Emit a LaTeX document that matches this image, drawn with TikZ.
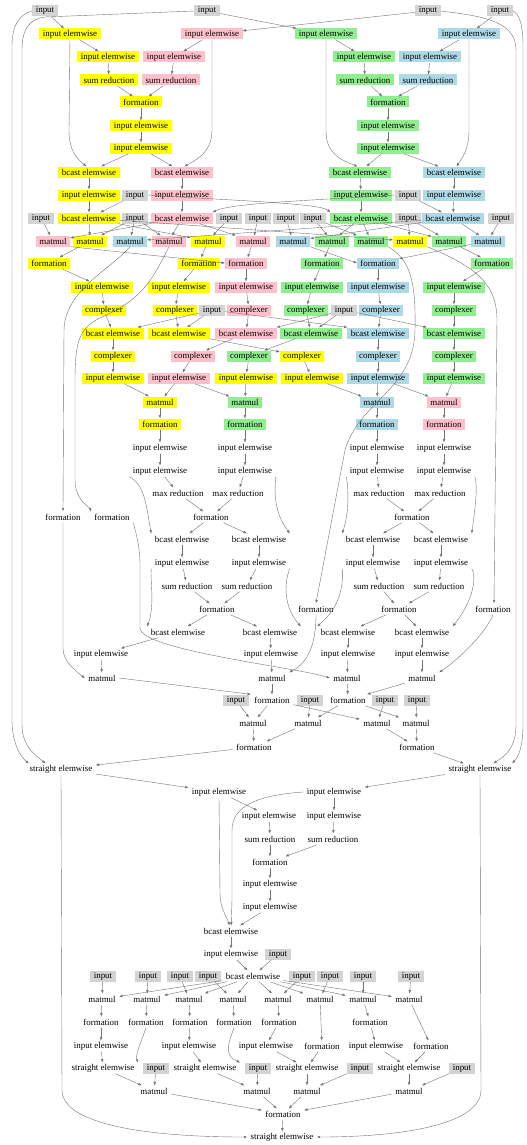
\documentclass[tikz,border=0pt]{standalone}
\usepackage{fontspec}
\setmainfont{Liberation Serif}
\usetikzlibrary{arrows.meta}
\definecolor{opyellow}{RGB}{255,255,0}
\definecolor{oppink}{RGB}{255,192,203}
\definecolor{opgreen}{RGB}{144,238,144}
\definecolor{opblue}{RGB}{173,216,230}
\definecolor{opgray}{RGB}{211,211,211}
\newcommand\opfont{\fontsize{8.9}{10}\selectfont}
\begin{document}
\begin{tikzpicture}[
    x=1pt, y=-1pt,
    op/.style={inner xsep=3.5pt, inner ysep=0pt, minimum height=11pt, font=\opfont},
    yel/.style={op, fill=opyellow},
    pnk/.style={op, fill=oppink},
    grn/.style={op, fill=opgreen},
    blu/.style={op, fill=opblue},
    inp/.style={op, fill=opgray},
    pln/.style={op},
    wire/.style={draw=black!55, line width=0.4pt, -{Triangle[length=3.2pt,width=2.4pt]}},
]
    \useasboundingbox (0,0) rectangle (527,1145);

    % top inputs and norms
    \node[inp] (inA1) at (45,11) {input};
    \node[inp] (inA2) at (207,11) {input};
    \node[inp] (inA3) at (428,11) {input};
    \node[inp] (inA4) at (500,11) {input};
    \node[yel] (ieB1) at (70,34) {input elemwise};
    \node[pnk] (ieB2) at (212,34) {input elemwise};
    \node[grn] (ieB3) at (326,34) {input elemwise};
    \node[blu] (ieB4) at (469,34) {input elemwise};
    \node[yel] (ieC1) at (108,57) {input elemwise};
    \node[pnk] (ieC2) at (174,57) {input elemwise};
    \node[grn] (ieC3) at (364,57) {input elemwise};
    \node[blu] (ieC4) at (430,57) {input elemwise};
    \node[yel] (srD1) at (109,80) {sum reduction};
    \node[pnk] (srD2) at (171,80) {sum reduction};
    \node[grn] (srD3) at (365,80) {sum reduction};
    \node[blu] (srD4) at (428,80) {sum reduction};
    \node[yel] (fE1) at (141,102) {formation};
    \node[grn] (fE2) at (388,102) {formation};
    \node[yel] (ieF1) at (141,126) {input elemwise};
    \node[grn] (ieF2) at (388,126) {input elemwise};
    \node[yel] (ieG1) at (141,148) {input elemwise};
    \node[grn] (ieG2) at (388,148) {input elemwise};
    \node[yel] (bcH1) at (89,172) {bcast elemwise};
    \node[pnk] (bcH2) at (182,172) {bcast elemwise};
    \node[grn] (bcH3) at (360,172) {bcast elemwise};
    \node[blu] (bcH4) at (454,172) {bcast elemwise};
    \node[yel] (ieI1) at (89,195) {input elemwise};
    \node[inp] (inI1) at (135,195) {input};
    \node[pnk] (ieI2) at (182,195) {input elemwise};
    \node[grn] (ieI3) at (361,195) {input elemwise};
    \node[inp] (inI2) at (408,195) {input};
    \node[blu] (ieI4) at (454,195) {input elemwise};
    \node[inp] (inJ1) at (41,218) {input};
    \node[yel] (bcJ1) at (89,218) {bcast elemwise};
    \node[inp] (inJ2) at (135,218) {input};
    \node[pnk] (bcJ2) at (182,218) {bcast elemwise};
    \node[inp] (inJ3) at (229,218) {input};
    \node[inp] (inJ4) at (258,218) {input};
    \node[inp] (inJ5) at (286,218) {input};
    \node[inp] (inJ6) at (313,218) {input};
    \node[grn] (bcJ3) at (361,218) {bcast elemwise};
    \node[inp] (inJ7) at (408,218) {input};
    \node[blu] (bcJ4) at (453,218) {bcast elemwise};
    \node[inp] (inJ8) at (501,218) {input};

    % projections
    \node[pnk] (mK1) at (53,241) {matmul};
    \node[yel] (mK2) at (90,241) {matmul};
    \node[blu] (mK3) at (130,241) {matmul};
    \node[pnk] (mK4) at (169,241) {matmul};
    \node[yel] (mK5) at (208,241) {matmul};
    \node[pnk] (mK6) at (253,241) {matmul};
    \node[blu] (mK7) at (293,241) {matmul};
    \node[grn] (mK8) at (332,241) {matmul};
    \node[grn] (mK9) at (371,241) {matmul};
    \node[yel] (mK10) at (410,241) {matmul};
    \node[grn] (mK11) at (449,241) {matmul};
    \node[blu] (mK12) at (488,241) {matmul};
    \node[yel] (fL1) at (49,263) {formation};
    \node[yel] (fL2) at (199,263) {formation};
    \node[pnk] (fL3) at (246,263) {formation};
    \node[grn] (fL4) at (322,263) {formation};
    \node[blu] (fL5) at (378,263) {formation};
    \node[grn] (fL6) at (492,263) {formation};
    \node[yel] (ieM1) at (102,287) {input elemwise};
    \node[yel] (ieM2) at (179,287) {input elemwise};
    \node[pnk] (ieM3) at (246,287) {input elemwise};
    \node[grn] (ieM4) at (312,287) {input elemwise};
    \node[blu] (ieM5) at (378,287) {input elemwise};
    \node[grn] (ieM6) at (454,287) {input elemwise};
    \node[yel] (cN1) at (104,310) {complexer};
    \node[yel] (cN2) at (175,310) {complexer};
    \node[inp] (inN1) at (212,310) {input};
    \node[pnk] (cN3) at (249,310) {complexer};
    \node[grn] (cN4) at (306,310) {complexer};
    \node[inp] (inN2) at (344,310) {input};
    \node[blu] (cN5) at (381,310) {complexer};
    \node[grn] (cN6) at (454,310) {complexer};
    \node[yel] (bcO1) at (113,333) {bcast elemwise};
    \node[yel] (bcO2) at (179,333) {bcast elemwise};
    \node[pnk] (bcO3) at (246,333) {bcast elemwise};
    \node[grn] (bcO4) at (311,333) {bcast elemwise};
    \node[blu] (bcO5) at (378,333) {bcast elemwise};
    \node[grn] (bcO6) at (454,333) {bcast elemwise};
    \node[yel] (cP1) at (113,356) {complexer};
    \node[pnk] (cP2) at (193,356) {complexer};
    \node[grn] (cP3) at (249,356) {complexer};
    \node[yel] (cP4) at (302,356) {complexer};
    \node[blu] (cP5) at (378,356) {complexer};
    \node[grn] (cP6) at (454,356) {complexer};
    \node[yel] (ieQ1) at (113,378) {input elemwise};
    \node[pnk] (ieQ2) at (179,378) {input elemwise};
    \node[yel] (ieQ3) at (246,378) {input elemwise};
    \node[yel] (ieQ4) at (312,378) {input elemwise};
    \node[blu] (ieQ5) at (378,378) {input elemwise};
    \node[grn] (ieQ6) at (454,378) {input elemwise};

    % attention scores
    \node[yel] (mR1) at (160,402) {matmul};
    \node[grn] (mR2) at (245,402) {matmul};
    \node[blu] (mR3) at (377,402) {matmul};
    \node[pnk] (mR4) at (444,402) {matmul};
    \node[yel] (fS1) at (160,424) {formation};
    \node[grn] (fS2) at (245,424) {formation};
    \node[blu] (fS3) at (377,424) {formation};
    \node[pnk] (fS4) at (444,424) {formation};
    \node[pln] (ieT1) at (160,448) {input elemwise};
    \node[pln] (ieT2) at (245,448) {input elemwise};
    \node[pln] (ieT3) at (377,448) {input elemwise};
    \node[pln] (ieT4) at (444,448) {input elemwise};
    \node[pln] (ieU1) at (160,471) {input elemwise};
    \node[pln] (ieU2) at (245,471) {input elemwise};
    \node[pln] (ieU3) at (377,471) {input elemwise};
    \node[pln] (ieU4) at (444,471) {input elemwise};
    \node[pln] (mxV1) at (178,493) {max reduction};
    \node[pln] (mxV2) at (238,493) {max reduction};
    \node[pln] (mxV3) at (379,493) {max reduction};
    \node[pln] (mxV4) at (440,493) {max reduction};
    \node[pln] (fW1) at (63,517) {formation};
    \node[pln] (fW2) at (112,517) {formation};
    \node[pln] (fW3) at (211,517) {formation};
    \node[pln] (fW4) at (412,517) {formation};
    \node[pln] (bcX1) at (182,539) {bcast elemwise};
    \node[pln] (bcX2) at (259,539) {bcast elemwise};
    \node[pln] (bcX3) at (373,539) {bcast elemwise};
    \node[pln] (bcX4) at (441,539) {bcast elemwise};
    \node[pln] (ieY1) at (182,563) {input elemwise};
    \node[pln] (ieY2) at (259,563) {input elemwise};
    \node[pln] (ieY3) at (373,563) {input elemwise};
    \node[pln] (ieY4) at (441,563) {input elemwise};
    \node[pln] (srZ1) at (187,586) {sum reduction};
    \node[pln] (srZ2) at (247,586) {sum reduction};
    \node[pln] (srZ3) at (379,586) {sum reduction};
    \node[pln] (srZ4) at (439,586) {sum reduction};
    \node[pln] (fAA1) at (217,609) {formation};
    \node[pln] (fAA2) at (316,609) {formation};
    \node[pln] (fAA3) at (399,609) {formation};
    \node[pln] (fAA4) at (493,609) {formation};
    \node[pln] (bcAB1) at (178,632) {bcast elemwise};
    \node[pln] (bcAB2) at (270,632) {bcast elemwise};
    \node[pln] (bcAB3) at (348,632) {bcast elemwise};
    \node[pln] (bcAB4) at (422,632) {bcast elemwise};
    \node[pln] (ieAC1) at (101,654) {input elemwise};
    \node[pln] (ieAC2) at (271,654) {input elemwise};
    \node[pln] (ieAC3) at (348,654) {input elemwise};
    \node[pln] (ieAC4) at (422,654) {input elemwise};
    \node[pln] (mAD1) at (102,678) {matmul};
    \node[pln] (mAD2) at (272,678) {matmul};
    \node[pln] (mAD3) at (347,678) {matmul};
    \node[pln] (mAD4) at (422,678) {matmul};
    \node[inp] (inAE1) at (236,700) {input};
    \node[pln] (fAE1) at (272,700) {formation};
    \node[inp] (inAE2) at (310,700) {input};
    \node[pln] (fAE2) at (348,700) {formation};
    \node[inp] (inAE3) at (385,700) {input};
    \node[inp] (inAE4) at (417,700) {input};
    \node[pln] (mAF1) at (253,723) {matmul};
    \node[pln] (mAF2) at (308,723) {matmul};
    \node[pln] (mAF3) at (377,723) {matmul};
    \node[pln] (mAF4) at (416,723) {matmul};
    \node[pln] (fAG1) at (254,747) {formation};
    \node[pln] (fAG2) at (417,747) {formation};
    \node[pln] (seAH1) at (61,769) {straight elemwise};
    \node[pln] (seAH2) at (480,769) {straight elemwise};

    % feed forward
    \node[pln] (ieAI1) at (219,792) {input elemwise};
    \node[pln] (ieAI2) at (334,792) {input elemwise};
    \node[pln] (ieAJ1) at (269,816) {input elemwise};
    \node[pln] (ieAJ2) at (334,816) {input elemwise};
    \node[pln] (srAK1) at (270,839) {sum reduction};
    \node[pln] (srAK2) at (333,839) {sum reduction};
    \node[pln] (fAL) at (270,862) {formation};
    \node[pln] (ieAM) at (270,884) {input elemwise};
    \node[pln] (ieAN) at (270,907) {input elemwise};
    \node[pln] (bcAO) at (231,931) {bcast elemwise};
    \node[pln] (ieAP) at (231,954) {input elemwise};
    \node[inp] (inAP) at (278,954) {input};
    \node[inp] (inAQ1) at (103,976) {input};
    \node[inp] (inAQ2) at (148,976) {input};
    \node[inp] (inAQ3) at (180,976) {input};
    \node[inp] (inAQ4) at (208,976) {input};
    \node[pln] (bcAQ) at (253,976) {bcast elemwise};
    \node[inp] (inAQ5) at (302,976) {input};
    \node[inp] (inAQ6) at (330,976) {input};
    \node[inp] (inAQ7) at (363,976) {input};
    \node[inp] (inAQ8) at (411,976) {input};
    \node[pln] (mAR1) at (102,999) {matmul};
    \node[pln] (mAR2) at (147,999) {matmul};
    \node[pln] (mAR3) at (189,999) {matmul};
    \node[pln] (mAR4) at (233,999) {matmul};
    \node[pln] (mAR5) at (278,999) {matmul};
    \node[pln] (mAR6) at (320,999) {matmul};
    \node[pln] (mAR7) at (363,999) {matmul};
    \node[pln] (mAR8) at (409,999) {matmul};
    \node[pln] (fAS1) at (101,1022) {formation};
    \node[pln] (fAS2) at (146,1022) {formation};
    \node[pln] (fAS3) at (190,1022) {formation};
    \node[pln] (fAS4) at (234,1022) {formation};
    \node[pln] (fAS5) at (279,1022) {formation};
    \node[pln] (fAS6) at (370,1022) {formation};
    \node[pln] (ieAT1) at (101,1046) {input elemwise};
    \node[pln] (ieAT2) at (189,1046) {input elemwise};
    \node[pln] (ieAT3) at (266,1046) {input elemwise};
    \node[pln] (fAT1) at (322,1046) {formation};
    \node[pln] (ieAT4) at (376,1046) {input elemwise};
    \node[pln] (fAT2) at (431,1046) {formation};
    \node[pln] (seAU1) at (103,1068) {straight elemwise};
    \node[inp] (inAU1) at (156,1068) {input};
    \node[pln] (seAU2) at (205,1068) {straight elemwise};
    \node[inp] (inAU2) at (258,1068) {input};
    \node[pln] (seAU3) at (307,1068) {straight elemwise};
    \node[inp] (inAU3) at (360,1068) {input};
    \node[pln] (seAU4) at (409,1068) {straight elemwise};
    \node[inp] (inAU4) at (462,1068) {input};
    \node[pln] (mAV1) at (154,1091) {matmul};
    \node[pln] (mAV2) at (257,1091) {matmul};
    \node[pln] (mAV3) at (307,1091) {matmul};
    \node[pln] (mAV4) at (409,1091) {matmul};
    \node[pln] (fAW) at (283,1114) {formation};
    \node[pln] (seAX) at (282,1137) {straight elemwise};

    % residual paths
    \draw[wire] (inA1.west) .. controls (20,14) and (12,25) .. (12,45) -- (12,720) .. controls (12,745) and (22,758) .. (seAH1.170);
    \draw[wire] (inA2.west) -- (45,17) .. controls (30,19) and (22,28) .. (22,50) -- (22,725) .. controls (22,748) and (38,757) .. (seAH1.160);
    \draw[wire] (inA3.east) .. controls (480,16) and (516,20) .. (516,50) -- (516,725) .. controls (516,748) and (505,756) .. (seAH2.23);
    \draw[wire] (inA4.east) .. controls (518,13) and (523,22) .. (523,45) -- (523,725) .. controls (523,748) and (518,757) .. (seAH2.10);
    \draw[wire] (seAH1.south) -- (62,1090) .. controls (62,1125) and (150,1137) .. (seAX.west);
    \draw[wire] (seAH2.south) -- (481,1090) .. controls (481,1125) and (400,1137) .. (seAX.east);

    % norms
    \draw[wire] (inA1) -- (ieB1);
    \draw[wire] (inA2) -- (ieB3);
    \draw[wire] (inA3) -- (ieB2);
    \draw[wire] (inA4) -- (ieB4);
    \draw[wire] (ieB1) -- (ieC1);
    \draw[wire] (ieB2) -- (ieC2);
    \draw[wire] (ieB3) -- (ieC3);
    \draw[wire] (ieB4) -- (ieC4);
    \draw[wire] (ieC1) -- (srD1);
    \draw[wire] (ieC2) -- (srD2);
    \draw[wire] (ieC3) -- (srD3);
    \draw[wire] (ieC4) -- (srD4);
    \draw[wire] (srD1) -- (fE1);
    \draw[wire] (srD2) -- (fE1);
    \draw[wire] (srD3) -- (fE2);
    \draw[wire] (srD4) -- (fE2);
    \draw[wire] (fE1) -- (ieF1);
    \draw[wire] (fE2) -- (ieF2);
    \draw[wire] (ieF1) -- (ieG1);
    \draw[wire] (ieF2) -- (ieG2);
    \draw[wire] (ieG1) -- (bcH1);
    \draw[wire] (ieG1) -- (bcH2);
    \draw[wire] (ieG2) -- (bcH3);
    \draw[wire] (ieG2) -- (bcH4);
    \draw[wire] (ieB1.south) -- (69,130) .. controls (69,150) and (76,158) .. (bcH1.115);
    \draw[wire] (ieB2.south) -- (212,130) .. controls (212,150) and (200,158) .. (bcH2.65);
    \draw[wire] (ieB3.south) -- (326,130) .. controls (326,150) and (335,158) .. (bcH3.115);
    \draw[wire] (ieB4.south) -- (469,130) .. controls (469,150) and (462,158) .. (bcH4.65);
    \draw[wire] (bcH1) -- (ieI1);
    \draw[wire] (bcH2) -- (ieI2);
    \draw[wire] (bcH3) -- (ieI3);
    \draw[wire] (bcH4) -- (ieI4);
    \draw[wire] (ieI1) -- (bcJ1);
    \draw[wire] (ieI2) -- (bcJ2);
    \draw[wire] (ieI3) -- (bcJ3);
    \draw[wire] (ieI4) -- (bcJ4);
    \draw[wire] (inI1) -- (bcJ1);
    \draw[wire] (inI1.east) .. controls (220,200) and (320,203) .. (bcJ3.north west);
    \draw[wire] (inI2.west) .. controls (320,200) and (230,203) .. (bcJ2.north east);
    \draw[wire] (inI2) -- (bcJ4);

    % projections
    \foreach \m in {mK2,mK5,mK10} \draw[wire] (bcJ1) -- (\m);
    \foreach \m in {mK1,mK4,mK6} \draw[wire] (bcJ2) -- (\m);
    \foreach \m in {mK8,mK9,mK11} \draw[wire] (bcJ3) -- (\m);
    \foreach \m in {mK3,mK7,mK12} \draw[wire] (bcJ4) -- (\m);
    \draw[wire] (inJ1) -- (mK1);
    \draw[wire] (inJ2) -- (mK2);
    \draw[wire] (inJ2) -- (mK3);
    \draw[wire] (inJ2) -- (mK4);
    \draw[wire] (inJ3) -- (mK5);
    \draw[wire] (inJ4) -- (mK6);
    \draw[wire] (inJ5) -- (mK7);
    \draw[wire] (inJ6) -- (mK8);
    \draw[wire] (inJ6) -- (mK9);
    \draw[wire] (inJ7) -- (mK10);
    \draw[wire] (inJ7) -- (mK11);
    \draw[wire] (inJ8) -- (mK12);
    \draw[wire] (mK2) -- (fL1);
    \draw[wire] (mK5) -- (fL2);
    \draw[wire] (mK1.south east) -- (fL3.west);
    \draw[wire] (mK6) -- (fL3);
    \draw[wire] (mK8) -- (fL4);
    \draw[wire] (mK7.south east) -- (fL5.west);
    \draw[wire] (mK12) -- (fL5);
    \draw[wire] (mK11) -- (fL6);
    \draw[wire] (fL1) -- (ieM1);
    \draw[wire] (fL2) -- (ieM2);
    \draw[wire] (fL3) -- (ieM3);
    \draw[wire] (fL4) -- (ieM4);
    \draw[wire] (fL5) -- (ieM5);
    \draw[wire] (fL6) -- (ieM6);
    \draw[wire] (ieM1) -- (cN1);
    \draw[wire] (ieM2) -- (cN2);
    \draw[wire] (ieM3) -- (cN3);
    \draw[wire] (ieM4) -- (cN4);
    \draw[wire] (ieM5) -- (cN5);
    \draw[wire] (ieM6) -- (cN6);
    \draw[wire] (cN1) -- (bcO1);
    \draw[wire] (cN2) -- (bcO2);
    \draw[wire] (cN3) -- (bcO3);
    \draw[wire] (cN4) -- (bcO4);
    \draw[wire] (cN5) -- (bcO5);
    \draw[wire] (cN6) -- (bcO6);
    \draw[wire] (inN1) -- (bcO1);
    \draw[wire] (inN1) -- (bcO2);
    \draw[wire] (inN1) -- (bcO5.north west);
    \draw[wire] (inN2) -- (bcO3.north east);
    \draw[wire] (inN2) -- (bcO4);
    \draw[wire] (inN2) -- (bcO6);
    \draw[wire] (bcO1) -- (cP1);
    \draw[wire] (bcO2) -- (cP4);
    \draw[wire] (bcO3) -- (cP2);
    \draw[wire] (bcO4) -- (cP3);
    \draw[wire] (bcO5) -- (cP5);
    \draw[wire] (bcO6) -- (cP6);
    \draw[wire] (cP1) -- (ieQ1);
    \draw[wire] (cP2) -- (ieQ2);
    \draw[wire] (cP3) -- (ieQ3);
    \draw[wire] (cP4) -- (ieQ4);
    \draw[wire] (cP5) -- (ieQ5);
    \draw[wire] (cP6) -- (ieQ6);

    % scores and softmax
    \draw[wire] (ieQ1) -- (mR1);
    \draw[wire] (ieQ2) -- (mR1);
    \draw[wire] (ieQ2) -- (mR2);
    \draw[wire] (ieQ3) -- (mR2);
    \draw[wire] (ieQ4) -- (mR3);
    \draw[wire] (ieQ5) -- (mR3);
    \draw[wire] (ieQ5) -- (mR4);
    \draw[wire] (ieQ6) -- (mR4);
    \foreach \i in {1,2,3,4} {
        \draw[wire] (mR\i) -- (fS\i);
        \draw[wire] (fS\i) -- (ieT\i);
        \draw[wire] (ieT\i) -- (ieU\i);
        \draw[wire] (ieU\i) -- (mxV\i);
        \draw[wire] (bcX\i) -- (ieY\i);
        \draw[wire] (ieY\i) -- (srZ\i);
        \draw[wire] (bcAB\i) -- (ieAC\i);
        \draw[wire] (ieAC\i) -- (mAD\i);
    }
    \draw[wire] (mxV1) -- (fW3);
    \draw[wire] (mxV2) -- (fW3);
    \draw[wire] (mxV3) -- (fW4);
    \draw[wire] (mxV4) -- (fW4);
    \draw[wire] (fW3) -- (bcX1);
    \draw[wire] (fW3) -- (bcX2);
    \draw[wire] (fW4) -- (bcX3);
    \draw[wire] (fW4) -- (bcX4);
    \draw[wire] (ieU1.south west) .. controls (145,485) and (146,505) .. (bcX1.north west);
    \draw[wire] (ieU2.south east) .. controls (275,485) and (272,510) .. (bcX2.north east);
    \draw[wire] (ieU3.south west) .. controls (348,485) and (350,510) .. (bcX3.north west);
    \draw[wire] (ieU4.south east) .. controls (478,485) and (475,510) .. (bcX4.north east);
    \draw[wire] (srZ1) -- (fAA1);
    \draw[wire] (srZ2) -- (fAA1);
    \draw[wire] (srZ3) -- (fAA3);
    \draw[wire] (srZ4) -- (fAA3);
    \draw[wire] (fAA1) -- (bcAB1);
    \draw[wire] (fAA1) -- (bcAB2);
    \draw[wire] (fAA3) -- (bcAB3);
    \draw[wire] (fAA3) -- (bcAB4);
    \draw[wire] (ieY1.south west) .. controls (150,580) and (155,605) .. (bcAB1.north west);
    \draw[wire] (ieY2.south east) .. controls (285,580) and (282,605) .. (bcAB2.north east);
    \draw[wire] (ieY3.south west) .. controls (343,580) and (343,605) .. (bcAB3.north west);
    \draw[wire] (ieY4.south east) .. controls (478,580) and (470,605) .. (bcAB4.north east);

    % values
    \draw[wire] (mK3.south) .. controls (110,270) and (65,290) .. (64,330) -- (63,511);
    \draw[wire] (mK4.south) .. controls (150,285) and (140,300) .. (100,318) .. controls (80,328) and (75,340) .. (75,380) -- (75,480) .. controls (75,500) and (90,508) .. (fW2.north west);
    \draw[wire] (mK9.south east) .. controls (410,260) and (416,280) .. (415,330) .. controls (414,390) and (360,400) .. (345,450) -- (316,603);
    \draw[wire] (mK10.south east) .. controls (470,265) and (497,280) .. (497,320) -- (494,603);
    \draw[wire] (fW1) -- (63,648) .. controls (63,660) and (72,668) .. (mAD1.west);
    \draw[wire] (fW2.south east) .. controls (135,530) and (140,545) .. (140,565) -- (140,628) .. controls (140,650) and (300,668) .. (mAD3.west);
    \draw[wire] (fAA2.south) .. controls (316,640) and (310,662) .. (mAD2.north east);
    \draw[wire] (fAA4.south) .. controls (485,635) and (455,662) .. (mAD4.north east);
    \draw[wire] (mAD1.east) -- (fAE1.north west);
    \draw[wire] (mAD2) -- (fAE1);
    \draw[wire] (mAD3) -- (fAE2);
    \draw[wire] (mAD4) -- (fAE2);
    \draw[wire] (inAE1) -- (mAF1);
    \draw[wire] (fAE1) -- (mAF1);
    \draw[wire] (inAE2) -- (mAF2);
    \draw[wire] (fAE2) -- (mAF2);
    \draw[wire] (inAE3) -- (mAF3);
    \draw[wire] (fAE1) -- (mAF3);
    \draw[wire] (inAE4) -- (mAF4);
    \draw[wire] (fAE2) -- (mAF4);
    \draw[wire] (mAF1) -- (fAG1);
    \draw[wire] (mAF2) -- (fAG1);
    \draw[wire] (mAF3) -- (fAG2);
    \draw[wire] (mAF4) -- (fAG2);
    \draw[wire] (fAG1) -- (seAH1);
    \draw[wire] (fAG2) -- (seAH2);

    % feed forward
    \draw[wire] (seAH1) -- (ieAI1);
    \draw[wire] (seAH2) -- (ieAI2);
    \draw[wire] (ieAI1) -- (ieAJ1);
    \draw[wire] (ieAI2) -- (ieAJ2);
    \draw[wire] (ieAJ1) -- (srAK1);
    \draw[wire] (ieAJ2) -- (srAK2);
    \draw[wire] (srAK1) -- (fAL);
    \draw[wire] (srAK2) -- (fAL);
    \draw[wire] (fAL) -- (ieAM);
    \draw[wire] (ieAM) -- (ieAN);
    \draw[wire] (ieAN) -- (bcAO);
    \draw[wire] (ieAI1.south) -- (220,893) .. controls (220,908) and (226,915) .. (bcAO.105);
    \draw[wire] (ieAI2.west) .. controls (260,795) and (232,805) .. (232,830) -- (232,900) -- (bcAO.88);
    \draw[wire] (bcAO) -- (ieAP);
    \draw[wire] (ieAP) -- (bcAQ);
    \draw[wire] (inAP) -- (bcAQ);
    \foreach \i in {1,...,8} {
        \draw[wire] (bcAQ) -- (mAR\i);
        \draw[wire] (inAQ\i) -- (mAR\i);
    }
    \draw[wire] (mAR1) -- (fAS1);
    \draw[wire] (mAR2) -- (fAS2);
    \draw[wire] (mAR3) -- (fAS3);
    \draw[wire] (mAR4) -- (fAS4);
    \draw[wire] (mAR5) -- (fAS5);
    \draw[wire] (mAR7) -- (fAS6);
    \draw[wire] (mAR6) -- (fAT1);
    \draw[wire] (mAR8) -- (fAT2);
    \draw[wire] (fAS1) -- (ieAT1);
    \draw[wire] (fAS3) -- (ieAT2);
    \draw[wire] (fAS5) -- (ieAT3);
    \draw[wire] (fAS6) -- (ieAT4);
    \draw[wire] (ieAT1) -- (seAU1);
    \draw[wire] (fAS2.south) .. controls (142,1040) and (135,1055) .. (seAU1.north east);
    \draw[wire] (ieAT2) -- (seAU2);
    \draw[wire] (fAS4.south) .. controls (230,1040) and (222,1055) .. (seAU2.north east);
    \draw[wire] (ieAT3) -- (seAU3);
    \draw[wire] (fAT1) -- (seAU3);
    \draw[wire] (ieAT4) -- (seAU4);
    \draw[wire] (fAT2) -- (seAU4);
    \draw[wire] (seAU1) -- (mAV1);
    \draw[wire] (inAU1) -- (mAV1);
    \draw[wire] (seAU2) -- (mAV2);
    \draw[wire] (inAU2) -- (mAV2);
    \draw[wire] (seAU3) -- (mAV3);
    \draw[wire] (inAU3) -- (mAV3);
    \draw[wire] (seAU4) -- (mAV4);
    \draw[wire] (inAU4) -- (mAV4);
    \foreach \i in {1,...,4} \draw[wire] (mAV\i) -- (fAW);
    \draw[wire] (fAW) -- (seAX);
\end{tikzpicture}
\end{document}
